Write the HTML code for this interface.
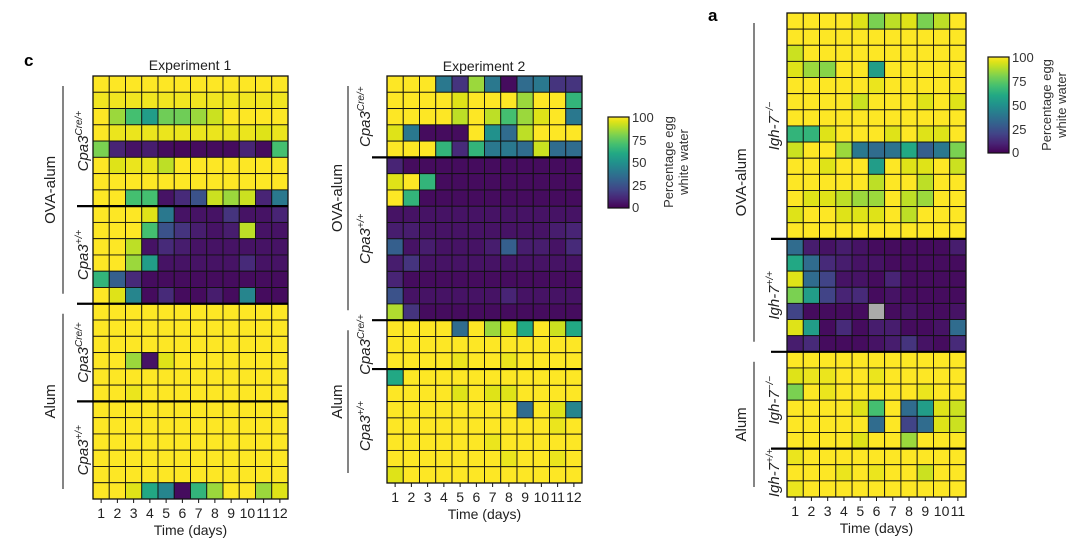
<!DOCTYPE html>
<html><head><meta charset="utf-8"><style>
html,body{margin:0;padding:0;background:#fff;}
svg{display:block;font-family:"Liberation Sans",sans-serif;}
</style></head><body>
<svg id="fig" width="1080" height="550" viewBox="0 0 1080 550" xmlns="http://www.w3.org/2000/svg">
<defs>
<linearGradient id="vir" x1="0" y1="1" x2="0" y2="0">
<stop offset="0" stop-color="#440154"/><stop offset="0.1" stop-color="#482475"/><stop offset="0.2" stop-color="#414487"/><stop offset="0.3" stop-color="#355f8d"/><stop offset="0.4" stop-color="#2a788e"/><stop offset="0.5" stop-color="#21918c"/><stop offset="0.6" stop-color="#22a884"/><stop offset="0.7" stop-color="#44bf70"/><stop offset="0.8" stop-color="#7ad151"/><stop offset="0.9" stop-color="#bddf26"/><stop offset="0.95" stop-color="#dfe318"/><stop offset="1" stop-color="#fde725"/>
</linearGradient>
</defs>
<text x="24" y="66" font-size="17" font-weight="bold">c</text>
<text x="708" y="21" font-size="17" font-weight="bold">a</text>
<text x="190" y="70" font-size="14" text-anchor="middle" fill="#222">Experiment 1</text>
<text x="484" y="71" font-size="14" text-anchor="middle" fill="#222">Experiment 2</text>
<g id="maps"></g>
<g>
<rect x="608" y="117" width="21" height="91" fill="url(#vir)" stroke="#111" stroke-width="1.2"/>
<g font-size="13" fill="#333">
<text x="632" y="122">100</text><text x="632" y="145">75</text><text x="632" y="167">50</text><text x="632" y="190">25</text><text x="632" y="212">0</text></g>
<text transform="translate(673,162) rotate(-90)" font-size="13" text-anchor="middle" fill="#333"><tspan x="0" dy="0">Percentage egg</tspan><tspan x="0" dy="15">white water</tspan></text>
</g>
<g>
<rect x="988" y="57" width="21" height="96" fill="url(#vir)" stroke="#111" stroke-width="1.2"/>
<g font-size="13" fill="#333">
<text x="1012" y="62">100</text><text x="1012" y="86">75</text><text x="1012" y="110">50</text><text x="1012" y="134">25</text><text x="1012" y="157">0</text></g>
<text transform="translate(1051,105) rotate(-90)" font-size="13" text-anchor="middle" fill="#333"><tspan x="0" dy="0">Percentage egg</tspan><tspan x="0" dy="15">white water</tspan></text>
</g>
</svg>
<script>
const days12 = ["1","2","3","4","5","6","7","8","9","10","11","12"];
const days11 = ["1","2","3","4","5","6","7","8","9","10","11"];
const exp1Values = [
[100,100,100,100,100,100,100,100,100,100,100,100],
[98,98,98,98,98,98,98,98,98,98,98,98],
[100,85,70,55,78,78,85,92,100,100,100,100],
[100,97,97,97,97,97,97,97,97,97,95,97],
[80,10,5,8,3,2,3,3,3,10,3,70],
[100,95,97,97,90,100,100,100,100,100,100,100],
[100,100,100,100,100,100,100,100,100,100,100,100],
[100,100,70,70,5,12,25,92,85,92,10,40],
[100,100,100,95,40,5,5,5,15,5,5,10],
[100,100,100,70,25,15,8,5,8,90,5,5],
[100,100,90,5,12,8,5,5,5,5,5,5],
[100,100,85,55,5,5,5,5,5,12,5,5],
[65,30,12,3,3,3,3,3,3,3,3,3],
[100,95,45,3,12,3,3,8,3,45,3,3],
[100,100,100,100,100,100,100,100,100,100,100,100],
[100,100,100,100,100,100,100,100,100,100,100,100],
[100,100,100,100,100,100,100,100,100,100,100,100],
[100,100,85,5,95,100,100,100,100,100,100,100],
[100,100,100,100,100,100,100,100,100,100,100,100],
[100,100,97,100,100,100,100,100,100,100,100,100],
[100,100,100,100,100,100,100,100,100,100,100,100],
[100,100,100,100,100,100,100,100,100,100,100,100],
[100,100,100,100,100,100,100,100,100,100,100,100],
[100,100,100,100,100,100,100,100,100,100,100,100],
[100,100,100,100,100,100,100,100,100,100,100,100],
[100,100,95,60,45,3,65,85,100,100,85,95]];
const exp2Values = [
[100,100,100,40,15,85,40,3,35,40,15,15],
[100,100,100,100,95,100,100,100,85,100,100,65],
[100,100,100,100,90,100,90,70,85,95,100,40],
[95,40,3,3,3,100,50,35,90,100,100,100],
[100,100,100,65,12,65,40,40,35,92,35,35],
[10,3,3,3,3,3,3,3,3,3,3,3],
[95,100,65,3,3,3,3,3,3,3,3,3],
[100,65,3,3,3,3,3,3,3,3,3,3],
[5,5,5,5,5,5,5,5,5,5,5,5],
[8,8,5,5,5,5,5,5,5,5,8,10],
[30,5,8,5,5,5,8,30,8,8,5,12],
[8,15,5,5,5,5,5,5,5,5,5,5],
[10,3,3,3,3,3,3,3,3,3,3,3],
[25,5,5,5,5,5,5,10,5,5,5,5],
[88,15,3,3,3,3,3,3,3,3,3,3],
[100,100,100,100,35,100,85,95,60,100,92,60],
[100,100,100,100,100,100,100,100,100,100,100,100],
[100,100,100,100,97,100,100,97,100,100,100,100],
[60,100,100,100,100,100,100,100,100,100,100,100],
[100,100,100,100,95,100,95,95,100,100,100,100],
[100,100,100,100,100,100,100,100,35,100,95,45],
[100,100,100,100,100,100,100,100,100,100,97,100],
[100,100,100,100,100,100,97,100,100,100,100,100],
[100,100,100,100,100,100,100,97,100,100,97,100],
[95,100,100,100,100,100,100,100,100,100,100,100]];
const panelAValues = [
[100,100,100,100,95,80,90,95,80,90,100],
[100,100,100,100,100,100,100,100,100,100,100],
[92,100,100,100,100,100,100,100,100,100,100],
[95,85,82,100,100,55,100,100,100,100,100],
[100,100,100,100,100,97,100,100,100,100,100],
[100,100,100,100,92,100,100,100,95,100,95],
[100,100,100,100,100,100,100,100,100,100,100],
[65,65,95,100,100,100,95,100,95,95,100],
[92,100,100,85,40,35,38,60,30,40,80],
[100,100,95,100,100,55,100,95,95,100,92],
[100,100,100,100,100,90,100,100,90,100,100],
[100,95,95,90,85,85,100,90,85,100,100],
[95,100,100,95,95,95,100,90,100,100,100],
[100,100,100,100,100,100,100,100,100,100,100],
[35,8,5,8,5,3,3,3,3,3,8],
[60,35,12,8,5,5,3,3,3,3,3],
[95,35,20,5,5,3,10,3,3,3,3],
[80,55,20,10,12,3,5,3,3,3,3],
[20,3,3,3,3,null,3,5,3,3,5],
[95,55,3,12,3,8,8,3,3,5,35],
[8,12,3,3,3,5,8,15,5,3,12],
[100,100,100,100,100,100,100,100,100,100,100],
[95,97,97,100,100,97,100,100,100,100,100],
[80,100,97,100,100,100,100,100,97,100,100],
[100,100,100,100,95,70,100,35,55,95,92],
[100,100,100,100,100,35,100,20,35,95,92],
[100,100,100,100,95,100,100,85,100,100,100],
[97,100,100,100,100,100,100,100,100,100,100],
[100,100,100,97,100,97,100,100,92,100,100],
[97,100,100,100,100,100,100,100,100,100,100]];
const exp1Groups = [{g:"OVA-alum",subs:[["Cpa3","Cre/+",8],["Cpa3","+/+",6]]},{g:"Alum",subs:[["Cpa3","Cre/+",6],["Cpa3","+/+",6]]}];
const exp2Groups = [{g:"OVA-alum",subs:[["Cpa3","Cre/+",5],["Cpa3","+/+",10]]},{g:"Alum",subs:[["Cpa3","Cre/+",3],["Cpa3","+/+",7]]}];
const panelAGroups = [{g:"OVA-alum",subs:[["Igh-7","−/−",14],["Igh-7","+/+",7]]},{g:"Alum",subs:[["Igh-7","−/−",6],["Igh-7","+/+",3]]}];

const VIRS=[[0,"#440154"],[0.1,"#482475"],[0.2,"#414487"],[0.3,"#355f8d"],[0.4,"#2a788e"],[0.5,"#21918c"],[0.6,"#22a884"],[0.7,"#44bf70"],[0.8,"#7ad151"],[0.9,"#bddf26"],[0.95,"#dfe318"],[1,"#fde725"]];
function hex(h){return [parseInt(h.slice(1,3),16),parseInt(h.slice(3,5),16),parseInt(h.slice(5,7),16)];}
function viridis(v){if(v===null)return "#aaaaaa";const t=Math.max(0,Math.min(1,v/100));let i=0;while(i<VIRS.length-2&&t>VIRS[i+1][0])i++;const f=(t-VIRS[i][0])/(VIRS[i+1][0]-VIRS[i][0]);const a=hex(VIRS[i][1]),b=hex(VIRS[i+1][1]);return "rgb("+a.map((c,k)=>Math.round(c+(b[k]-c)*f)).join(",")+")";}
const NS="http://www.w3.org/2000/svg";
function mk(tag,attrs,parent){const e=document.createElementNS(NS,tag);for(const k in attrs)e.setAttribute(k,attrs[k]);parent.appendChild(e);return e;}
function drawMap(id,values,days,groups,L){
  const root=document.getElementById('maps');
  const g=mk('g',{},root);
  
  
  const nr=values.length,nc=days.length;
  const cw=(L.x1-L.x0)/nc,ch=(L.y1-L.y0)/nr;
  const xs=c=>L.x0+c*cw, ys=r=>L.y0+r*ch;
  values.forEach((row,r)=>row.forEach((v,c)=>{
    const e=mk('rect',{x:xs(c),y:ys(r),width:cw,height:ch,fill:viridis(v),stroke:'#111','stroke-width':0.9},g);
    
    
  }));
  mk('rect',{x:L.x0,y:L.y0,width:L.x1-L.x0,height:L.y1-L.y0,fill:'none',stroke:'#111','stroke-width':1.3},g);
  days.forEach((d,c)=>{
    mk('line',{x1:xs(c)+cw/2,x2:xs(c)+cw/2,y1:L.y1,y2:L.y1+4,stroke:'#111','stroke-width':1},g);
    const t=mk('text',{x:xs(c)+cw/2,y:L.y1+19,'font-size':14,'text-anchor':'middle',fill:'#222'},g);
    t.textContent=d;
    
    
  });
  const xt=mk('text',{x:(L.x0+L.x1)/2,y:L.y1+36,'font-size':14,'text-anchor':'middle',fill:'#222'},g);
  xt.textContent='Time (days)';
  
  
  let r=0,first=true;
  groups.forEach(gr=>{
    const gStart=r;
    gr.subs.forEach(s=>{
      if(!first){mk('line',{x1:L.sepX,x2:L.x1,y1:ys(r),y2:ys(r),stroke:'#000','stroke-width':2.2},g);}
      first=false;
      const cy=ys(r+s[2]/2);
      const t=mk('text',{transform:'translate('+(L.subX+5)+','+cy+') rotate(-90)','font-size':15,'font-style':'italic','text-anchor':'middle',fill:'#222'},g);
      
      
      const a=document.createElementNS(NS,'tspan');a.textContent=s[0];t.appendChild(a);
      const b=document.createElementNS(NS,'tspan');b.textContent=s[1];b.setAttribute('dy','-6');b.setAttribute('font-size','10');t.appendChild(b);
      r+=s[2];
    });
    const y0=ys(gStart)+10,y1=ys(r)-10;
    mk('line',{x1:L.lineX,x2:L.lineX,y1:y0,y2:y1,stroke:'#333','stroke-width':1.2},g);
    const gt=mk('text',{transform:'translate('+(L.grpX+5)+','+((ys(gStart)+ys(r))/2)+') rotate(-90)','font-size':15,'text-anchor':'middle',fill:'#222'},g);
    gt.textContent=gr.g;
    
    
  });
}
drawMap('experiment-1',exp1Values,days12,exp1Groups,{x0:93,x1:288,y0:76,y1:499,sepX:77,subX:83,lineX:63,grpX:50});
drawMap('experiment-2',exp2Values,days12,exp2Groups,{x0:387,x1:582,y0:76,y1:483,sepX:372,subX:365,lineX:348,grpX:337});
drawMap('panel-a',panelAValues,days11,panelAGroups,{x0:787,x1:966,y0:13,y1:497,sepX:771,subX:774,lineX:754,grpX:741});
</script>
</body></html>
